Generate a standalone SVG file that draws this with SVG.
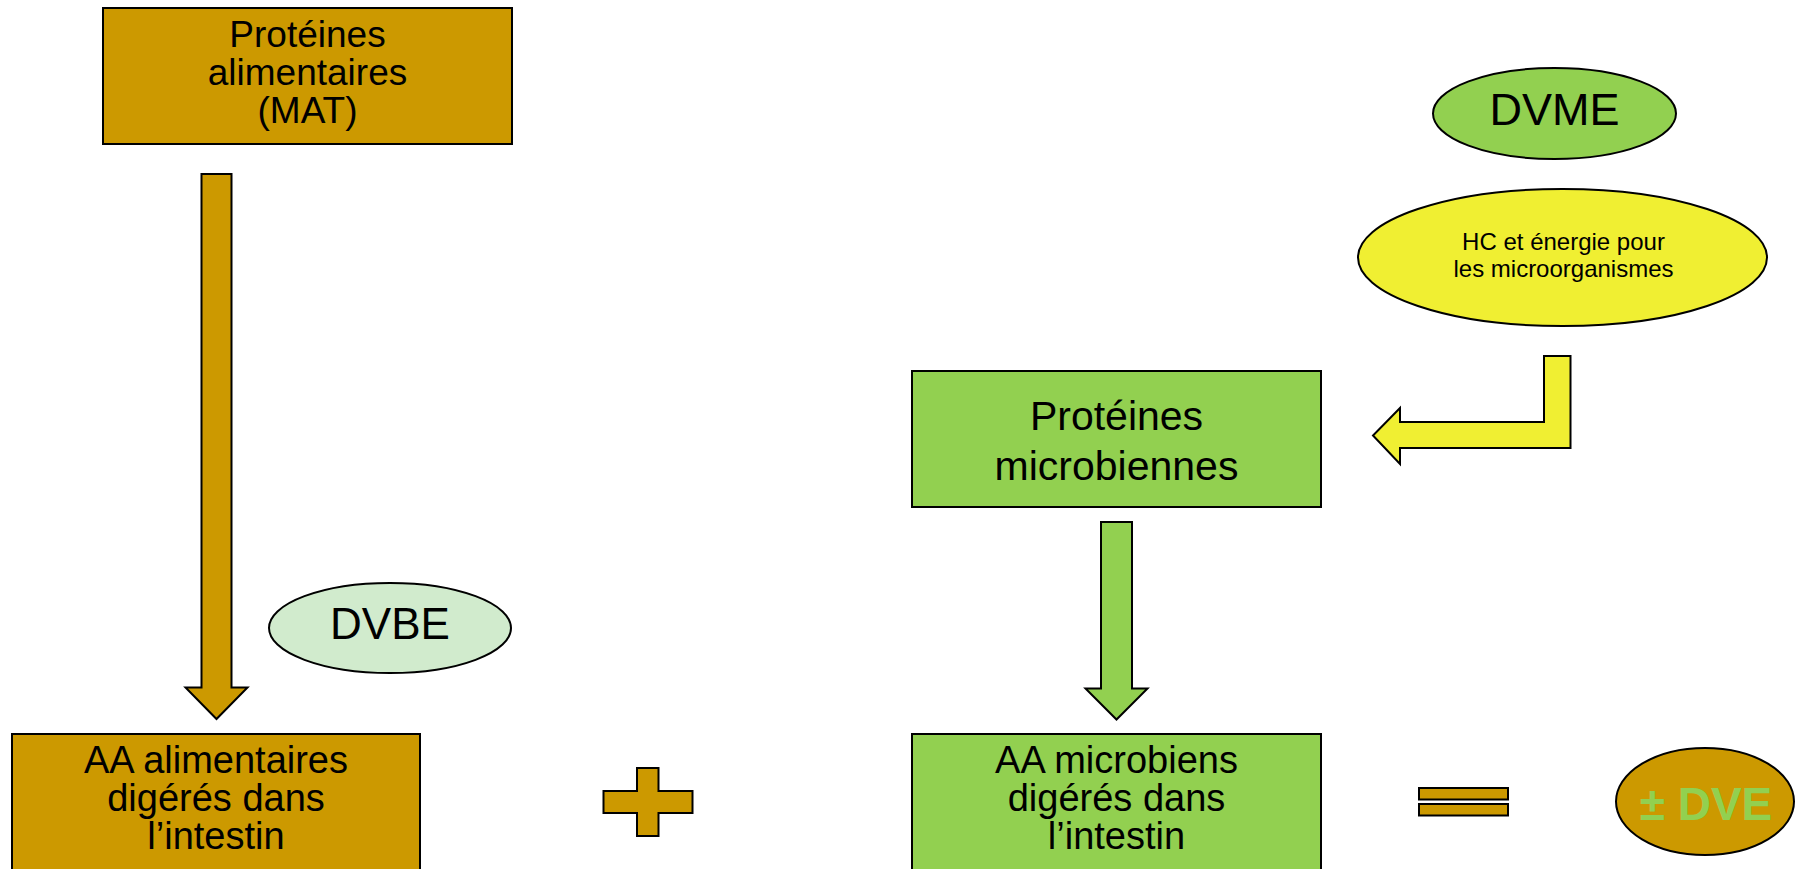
<svg xmlns="http://www.w3.org/2000/svg" width="1796" height="869" viewBox="0 0 1796 869">
<style>
.shape{stroke:#000;stroke-width:2}
.brown{fill:#cc9900}
.green{fill:#92d050}
.yellow{fill:#f0ef32}
.pale{fill:#d1ebcd}
text{font-family:"Liberation Sans",Arial,sans-serif;fill:#000;text-anchor:middle}
.box{font-size:37px}
.boxb{font-size:38px}
.big{font-size:45px}
</style>
<rect width="1796" height="869" fill="#fff"/>
<g id="connectors">
<path id="arrow-brown" class="shape brown" d="M201.5,174 L231.5,174 L231.5,687.5 L247.5,687.5 L216.5,719 L185.5,687.5 L201.5,687.5 Z"/>
<path id="arrow-green" class="shape green" d="M1101,522 L1132,522 L1132,688.5 L1147.5,688.5 L1116.5,719.5 L1085.5,688.5 L1101,688.5 Z"/>
<path id="arrow-yellow" class="shape yellow" d="M1544,356 L1570.5,356 L1570.5,448 L1400,448 L1400,464 L1373,435.5 L1400,408 L1400,422 L1544,422 Z"/>
</g>
<g id="node-proteines-alimentaires">
<rect class="shape brown" x="103" y="8" width="409" height="136"/>
<text class="box" x="307.5" y="47">Protéines</text>
<text class="box" x="307.5" y="85">alimentaires</text>
<text class="box" x="307.5" y="123">(MAT)</text>
</g>
<g id="node-dvme">
<ellipse class="shape green" cx="1554.5" cy="113.5" rx="121.5" ry="45.5"/>
<text class="big" x="1554.5" y="125">DVME</text>
</g>
<g id="node-hc">
<ellipse class="shape yellow" cx="1562.5" cy="257.5" rx="204.5" ry="68.5"/>
<text font-size="24" x="1563.5" y="249.5">HC et énergie pour</text>
<text font-size="24" x="1563.5" y="276.5">les microorganismes</text>
</g>
<g id="node-proteines-microbiennes">
<rect class="shape green" x="912" y="371" width="409" height="136"/>
<text font-size="41" x="1116.5" y="430">Protéines</text>
<text font-size="41" x="1116.5" y="480">microbiennes</text>
</g>
<g id="node-dvbe">
<ellipse class="shape pale" cx="390" cy="628" rx="121" ry="45"/>
<text font-size="44" x="390" y="639">DVBE</text>
</g>
<g id="node-aa-alimentaires">
<rect class="shape brown" x="12" y="734" width="408" height="150"/>
<text class="boxb" x="216" y="773">AA alimentaires</text>
<text class="boxb" x="216" y="811">digérés dans</text>
<text class="boxb" x="216" y="849">l’intestin</text>
</g>
<g id="node-plus">
<path class="shape brown" d="M637,768 L658.5,768 L658.5,791 L692.5,791 L692.5,813 L658.5,813 L658.5,836 L637,836 L637,813 L603.5,813 L603.5,791 L637,791 Z"/>
</g>
<g id="node-aa-microbiens">
<rect class="shape green" x="912" y="734" width="409" height="150"/>
<text class="boxb" x="1116.5" y="773">AA microbiens</text>
<text class="boxb" x="1116.5" y="811">digérés dans</text>
<text class="boxb" x="1116.5" y="849">l’intestin</text>
</g>
<g id="node-equals">
<rect class="shape brown" x="1419" y="788" width="89" height="11.5"/>
<rect class="shape brown" x="1419" y="804" width="89" height="11.5"/>
</g>
<g id="node-dve">
<ellipse class="shape brown" cx="1705" cy="801.5" rx="89" ry="53.5"/>
<text font-size="46" font-weight="bold" x="1706" y="820" style="fill:#92d050">± DVE</text>
</g>
</svg>
